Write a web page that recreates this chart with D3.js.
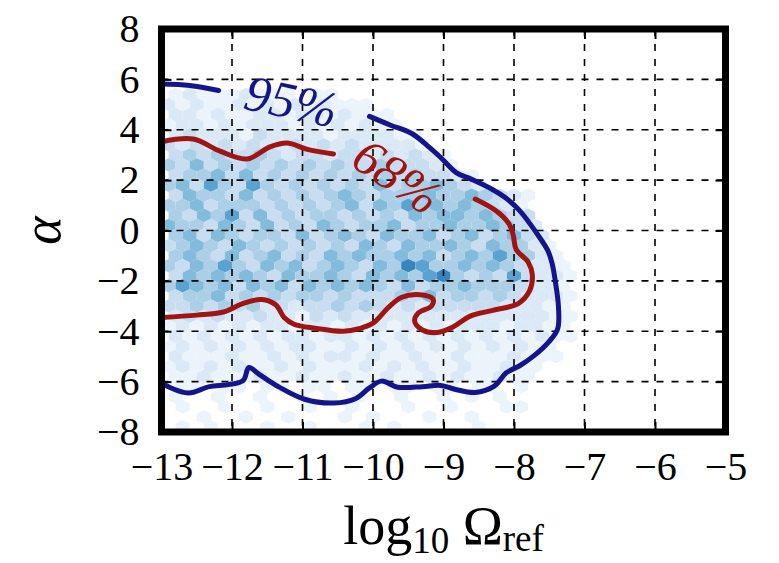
<!DOCTYPE html>
<html>
<head>
<meta charset="utf-8">
<script src="https://cdn.jsdelivr.net/npm/d3@7"></script>
<style>
body { margin: 0; background: #fff; }
text { font-family: "Liberation Serif", "DejaVu Serif", serif; }
</style>
</head>
<body>
<script>
var width = 779;
var height = 563;
var marginLeft = 161.5;
var marginRight = 53.5;
var marginTop = 29;
var marginBottom = 131;

// axis ticks
var xTicks = [-13, -12, -11, -10, -9, -8, -7, -6, -5];
var yTicks = [-8, -6, -4, -2, 0, 2, 4, 6, 8];
var xGrid = [-12, -11, -10, -9, -8, -7, -6];
var yGrid = [-6, -4, -2, 0, 2, 4, 6];

// hexbin cell centres and counts (0 = empty, 8 = densest), one string per row
var cellXs = [-12.9, -12.7, -12.5, -12.3, -12.1, -11.9, -11.7, -11.5, -11.3, -11.1,
              -10.9, -10.7, -10.5, -10.3, -10.1, -9.9, -9.7, -9.5, -9.3, -9.1,
              -8.9, -8.7, -8.5, -8.3, -8.1, -7.9, -7.7, -7.5, -7.3];
var cellYs = [5.8, 5.4, 5.0, 4.6, 4.2, 3.8, 3.4, 3.0, 2.6, 2.2, 1.8, 1.4, 1.0, 0.6, 0.2,
              -0.2, -0.6, -1.0, -1.4, -1.8, -2.2, -2.6, -3.0, -3.4, -3.8, -4.2, -4.6,
              -5.0, -5.4, -5.8, -6.2, -6.6, -7.0, -7.4, -7.8];
var cellCounts = [
  "00000000000000000000000000000",
  "12111211101100000000000000000",
  "21211212121211100000000000000",
  "22121122122121110000000000000",
  "12212122212121211000000000000",
  "23222132222122221100000000000",
  "32323232232323222210000000000",
  "34343343233233232321000000000",
  "43534343434343343332100000000",
  "34453534343434343433210000000",
  "45364364343434353445432000000",
  "35443534343454344454454321000",
  "44534443434345354645454321000",
  "43546353434434343545545433000",
  "54435435343543445344544543200",
  "45354344353454354453453453200",
  "34543543434343543544543544210",
  "45435345343545445453454644210",
  "43546435453454354764454543221",
  "35454543544543545467434363221",
  "46545354535454543534454443221",
  "34453434344343334353443432221",
  "33434342323343432323333322211",
  "23232232213232222222222222211",
  "12121212212212121212122212211",
  "21212121221221212121212121211",
  "12121212122112121212121212110",
  "21112112121221211211211121110",
  "12121211212111212121121121100",
  "11211121121121121121211211000",
  "01101101101101101101101101000",
  "10010010010101001001010100000",
  "01001001001001000100100011000",
  "00100100100010100010010000000",
  "01010001001000101000001000000"
];

// contour lines [log10 Omega_ref, alpha]
var contour95Left = [[-13, 5.82], [-12.6, 5.76], [-12.19, 5.56]];
var contour95Right = [[-10.05, 4.53], [-9.75, 4.18], [-9.45, 3.85], [-9.2, 3.3],
  [-9.04, 2.9], [-8.82, 2.3], [-8.6, 2.03], [-8.3, 1.62], [-8.12, 1.3], [-7.92, 0.79],
  [-7.68, -0.1], [-7.52, -0.8], [-7.46, -1.3], [-7.41, -2.09], [-7.37, -3.0],
  [-7.38, -3.9], [-7.5, -4.4], [-7.72, -4.98], [-7.92, -5.37], [-8.11, -5.65],
  [-8.28, -6.18], [-8.55, -6.43], [-8.84, -6.3], [-9.04, -6.15], [-9.3, -6.2],
  [-9.65, -6.22], [-9.88, -5.98], [-10.05, -6.25], [-10.25, -6.68], [-10.55, -6.85],
  [-10.97, -6.7], [-11.33, -6.22], [-11.62, -5.7], [-11.76, -5.44], [-11.84, -5.95],
  [-12.05, -6.12], [-12.32, -6.2], [-12.62, -6.45], [-12.92, -6.18], [-13, -6.05]];
var contour68Left = [[-13, 3.52], [-12.55, 3.63], [-12.17, 3.15], [-11.79, 2.84],
  [-11.46, 3.32], [-11.22, 3.47], [-10.93, 3.22], [-10.56, 3.04]];
var contour68Right = [[-8.55, 1.25], [-8.26, 0.79], [-8.07, 0.26], [-8.01, -0.2],
  [-7.97, -0.75], [-7.8, -1.25], [-7.74, -1.75], [-7.78, -2.4], [-7.94, -2.9],
  [-8.3, -3.17], [-8.62, -3.4], [-8.86, -3.82], [-9.09, -4.05], [-9.3, -3.95],
  [-9.41, -3.6], [-9.36, -3.28], [-9.17, -3.0], [-9.15, -2.72], [-9.33, -2.55],
  [-9.6, -2.66], [-9.78, -3.05], [-10.0, -3.68], [-10.2, -3.9], [-10.42, -4.0],
  [-10.82, -3.88], [-11.12, -3.72], [-11.26, -3.45], [-11.38, -2.95], [-11.58, -2.74],
  [-11.85, -2.9], [-12.1, -3.22], [-12.5, -3.36], [-13, -3.45]];

var labelNames = ["95%", "68%"];
var labelXs = [-11.16, -9.66];
var labelYs = [5.12, 2.14];
var labelAngles = [12, 34];
var labelColors = ["#14148c", "#a01414"];

var svg = d3.select("body")
  .append("svg")
  .attr("width", width)
  .attr("height", height)
  .style("background", "#fff");

var xScale = d3.scaleLinear()
  .domain([-13, -5])
  .range([marginLeft, width - marginRight]);

var yScale = d3.scaleLinear()
  .domain([-8, 8])
  .range([height - marginBottom, marginTop]);

// pale base with darker speckles, like the Blues hexbin
var shade = d3.scalePow().exponent(1.25).domain([0, 9]).range([0, 0.92]);
function color(n) { return d3.interpolateBlues(shade(n)); }

svg.append("clipPath")
  .attr("id", "plot-clip")
  .append("rect")
  .attr("x", marginLeft)
  .attr("y", marginTop)
  .attr("width", xScale(-5) - marginLeft)
  .attr("height", yScale(-8) - marginTop);

// hexbin cells
var cells = [];
cellCounts.forEach(function(row, r) {
  for (var c = 0; c < row.length; c++) {
    var n = +row[c];
    if (n > 0) {
      cells.push({x: cellXs[c] + (r % 2 ? 0.1 : 0), y: cellYs[r], n: n});
    }
  }
});

var hw = 0.1, hr = 0.27;
function hexPath(d) {
  var pts = [[0, hr], [hw, hr / 2], [hw, -hr / 2], [0, -hr], [-hw, -hr / 2], [-hw, hr / 2]];
  return "M" + pts.map(function(p) {
    return xScale(d.x + p[0]) + "," + yScale(d.y + p[1]);
  }).join("L") + "Z";
}

svg.append("g")
  .attr("clip-path", "url(#plot-clip)")
  .selectAll("path")
  .data(cells)
  .join("path")
  .attr("d", hexPath)
  .attr("fill", function(d) { return color(d.n); });

// dashed grid
var grid = svg.append("g")
  .attr("stroke", "#000")
  .attr("stroke-width", 1.6)
  .attr("stroke-dasharray", "7,8");
grid.selectAll(".gx")
  .data(xGrid)
  .join("line")
  .attr("x1", function(d) { return xScale(d); })
  .attr("x2", function(d) { return xScale(d); })
  .attr("y1", yScale(8))
  .attr("y2", yScale(-8));
grid.selectAll(".gy")
  .data(yGrid)
  .join("line")
  .attr("class", "gy")
  .attr("y1", function(d) { return yScale(d); })
  .attr("y2", function(d) { return yScale(d); })
  .attr("x1", xScale(-13))
  .attr("x2", xScale(-5));

// contours
var line = d3.line()
  .x(function(d) { return xScale(d[0]); })
  .y(function(d) { return yScale(d[1]); })
  .curve(d3.curveCatmullRom);

var contours = [
  {pts: contour95Left, color: labelColors[0]},
  {pts: contour95Right, color: labelColors[0]},
  {pts: contour68Left, color: labelColors[1]},
  {pts: contour68Right, color: labelColors[1]}
];
svg.append("g")
  .attr("clip-path", "url(#plot-clip)")
  .selectAll("path")
  .data(contours)
  .join("path")
  .attr("fill", "none")
  .attr("stroke", function(d) { return d.color; })
  .attr("stroke-width", 5)
  .attr("stroke-linecap", "round")
  .attr("d", function(d) { return line(d.pts); });

// contour labels
svg.append("g")
  .selectAll("text")
  .data(labelNames)
  .join("text")
  .attr("transform", function(d, i) {
    return "translate(" + xScale(labelXs[i]) + "," + yScale(labelYs[i]) + ") rotate(" + labelAngles[i] + ")";
  })
  .attr("text-anchor", "middle")
  .attr("dominant-baseline", "central")
  .attr("font-style", "italic")
  .attr("font-size", 51)
  .attr("fill", function(d, i) { return labelColors[i]; })
  .text(function(d) { return d; });

// axes with inward ticks
var fmt = d3.format("d");
var xAxis = d3.axisBottom(xScale).tickValues(xTicks).tickFormat(fmt).tickSize(-10).tickPadding(20);
var xAxisTop = d3.axisTop(xScale).tickValues(xTicks).tickFormat("").tickSize(-10);
var yAxis = d3.axisLeft(yScale).tickValues(yTicks).tickFormat(fmt).tickSize(-10).tickPadding(22);
var yAxisRight = d3.axisRight(yScale).tickValues(yTicks).tickFormat("").tickSize(-10);

function styleAxis(g) {
  g.select(".domain").remove();
  g.selectAll(".tick line").attr("stroke", "#000").attr("stroke-width", 2);
  g.selectAll(".tick text")
    .attr("fill", "#000")
    .style("font-size", "40px")
    .style("font-family", "'Liberation Serif', 'DejaVu Serif', serif");
}

svg.append("g").attr("transform", "translate(0," + yScale(-8) + ")").call(xAxis).call(styleAxis);
svg.append("g").attr("transform", "translate(0," + yScale(8) + ")").call(xAxisTop).call(styleAxis);
svg.append("g").attr("transform", "translate(" + xScale(-13) + ",0)").call(yAxis).call(styleAxis);
svg.append("g").attr("transform", "translate(" + xScale(-5) + ",0)").call(yAxisRight).call(styleAxis);

// frame
svg.append("rect")
  .attr("x", xScale(-13))
  .attr("y", yScale(8))
  .attr("width", xScale(-5) - xScale(-13))
  .attr("height", yScale(-8) - yScale(8))
  .attr("fill", "none")
  .attr("stroke", "#000")
  .attr("stroke-width", 7);

// axis titles
var xTitle = svg.append("text")
  .attr("x", (xScale(-13) + xScale(-5)) / 2)
  .attr("y", 544)
  .attr("text-anchor", "middle")
  .attr("font-size", 54)
  .attr("fill", "#000");
xTitle.append("tspan").text("log");
xTitle.append("tspan").attr("font-size", 37).attr("dy", 9).text("10");
xTitle.append("tspan").attr("dy", -9).text(" Ω");
xTitle.append("tspan").attr("font-size", 37).attr("dy", 7).text("ref");

svg.append("text")
  .attr("transform", "translate(42," + yScale(0) + ") rotate(-90)")
  .attr("text-anchor", "middle")
  .attr("dominant-baseline", "central")
  .attr("font-style", "italic")
  .attr("font-size", 54)
  .attr("fill", "#000")
  .text("α");
</script>
</body>
</html>
